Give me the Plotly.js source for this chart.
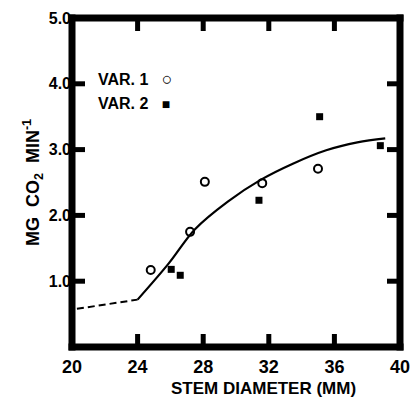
<!DOCTYPE html>
<html><head><meta charset="utf-8">
<script src="https://cdn.plot.ly/plotly-3.0.1.min.js"></script>
<style>html,body{margin:0;padding:0;background:#fff}</style>
</head><body><div id="chart" style="width:414px;height:398px"></div>
<script>
// Data
const var1X = [24.8, 27.2, 28.1, 31.6, 35.0];
const var1Y = [1.17, 1.75, 2.51, 2.49, 2.71];
const var2X = [26.05, 26.6, 31.4, 35.1, 38.8];
const var2Y = [1.18, 1.09, 2.23, 3.50, 3.06];
const fitX = [24, 25.9, 27.5, 29.5, 31.5, 33.5, 35.5, 37.4, 39.1];
const fitY = [0.72, 1.27, 1.79, 2.21, 2.54, 2.79, 2.99, 3.11, 3.17];
const extX = [20.3, 24];
const extY = [0.58, 0.72];
const xRange = [20, 40];
const yRange = [0, 5];
const xTicks = [20, 24, 28, 32, 36, 40];
const yTicks = [1, 2, 3, 4, 5];
const yTickText = ["1.0", "2.0", "3.0", "4.0", "5.0"];

const FONT = "Liberation Sans, Arial, sans-serif";
const W = 414, H = 398, M = {l: 72, r: 14, t: 18, b: 51};
const PW = W - M.l - M.r, PH = H - M.t - M.b;
// frame as filled bars (thickness in px converted to paper fractions)
const FT = 7, fx = FT / PW / 2, fy = FT / PH / 2;
const TW = 5, TL = 13; // tick width / length in px
const black = {fillcolor: '#000', line: {color: '#000', width: 0}, layer: 'above'};
const shapes = [
  Object.assign({type: 'rect', xref: 'paper', yref: 'paper', x0: -fx, x1: 1 + fx, y0: -fy, y1: fy}, black),
  Object.assign({type: 'rect', xref: 'paper', yref: 'paper', x0: -fx, x1: 1 + fx, y0: 1 - fy, y1: 1 + fy}, black),
  Object.assign({type: 'rect', xref: 'paper', yref: 'paper', x0: -fx, x1: fx, y0: -fy, y1: 1 + fy}, black),
  Object.assign({type: 'rect', xref: 'paper', yref: 'paper', x0: 1 - fx, x1: 1 + fx, y0: -fy, y1: 1 + fy}, black)
];
const dxPx = (xRange[1] - xRange[0]) / PW, dyPx = (yRange[1] - yRange[0]) / PH;
xTicks.slice(1, -1).forEach(v => {
  shapes.push(Object.assign({type: 'rect', xref: 'x', yref: 'paper', x0: v - dxPx * TW / 2, x1: v + dxPx * TW / 2, y0: 0, y1: TL / PH}, black));
  shapes.push(Object.assign({type: 'rect', xref: 'x', yref: 'paper', x0: v - dxPx * TW / 2, x1: v + dxPx * TW / 2, y0: 1 - TL / PH, y1: 1}, black));
});
yTicks.slice(0, -1).forEach(v => {
  shapes.push(Object.assign({type: 'rect', xref: 'paper', yref: 'y', x0: 0, x1: TL / PW, y0: v - dyPx * TW / 2, y1: v + dyPx * TW / 2}, black));
  shapes.push(Object.assign({type: 'rect', xref: 'paper', yref: 'y', x0: 1 - TL / PW, x1: 1, y0: v - dyPx * TW / 2, y1: v + dyPx * TW / 2}, black));
});

const traces = [
  {x: extX, y: extY, mode: 'lines', line: {color: '#000', width: 2, dash: '7px,4px'}},
  {x: fitX, y: fitY, mode: 'lines', line: {color: '#000', width: 2.2, shape: 'spline', smoothing: 1}},
  {x: var1X, y: var1Y, mode: 'markers', marker: {symbol: 'circle-open', size: 8, color: '#000', line: {width: 2, color: '#000'}}},
  {x: var2X, y: var2Y, mode: 'markers', marker: {symbol: 'square', size: 7, color: '#000'}}
];

const layout = {
  width: W, height: H, margin: M,
  paper_bgcolor: '#fff', plot_bgcolor: '#fff',
  showlegend: false,
  xaxis: {range: xRange, tickvals: xTicks, ticktext: xTicks.map(String), showgrid: false, zeroline: false,
    showline: false, ticks: '', ticklabelstandoff: 7,
    tickfont: {family: FONT, size: 18, color: '#000', weight: 'bold'}},
  yaxis: {range: yRange, tickvals: yTicks, ticktext: yTickText, showgrid: false, zeroline: false,
    showline: false, ticks: '', ticklabelstandoff: 0,
    tickfont: {family: FONT, size: 16, color: '#000', weight: 'bold'},
    title: {text: 'MG  CO<sub>2</sub>  MIN<sup>-1</sup>', standoff: 4, font: {family: FONT, size: 18, color: '#000', weight: 'bold'}}},
  shapes: shapes,
  annotations: [
    {xref: 'paper', yref: 'paper', x: 0.585, y: -0.09, xanchor: 'center', yanchor: 'top', showarrow: false,
     text: 'STEM DIAMETER (MM)', font: {family: FONT, size: 17, color: '#000', weight: 'bold'}},
    {xref: 'x', yref: 'y', x: 21.45, y: 4.08, xanchor: 'left', yanchor: 'middle', showarrow: false,
     text: 'VAR. 1   <span style="font-size:18px">○</span>', font: {family: FONT, size: 16, color: '#000', weight: 'bold'}},
    {xref: 'x', yref: 'y', x: 21.45, y: 3.70, xanchor: 'left', yanchor: 'middle', showarrow: false,
     text: 'VAR. 2   <span style="font-size:14px">■</span>', font: {family: FONT, size: 16, color: '#000', weight: 'bold'}}
  ]
};
Plotly.newPlot('chart', traces, layout, {displayModeBar: false, staticPlot: true});
</script></body></html>
